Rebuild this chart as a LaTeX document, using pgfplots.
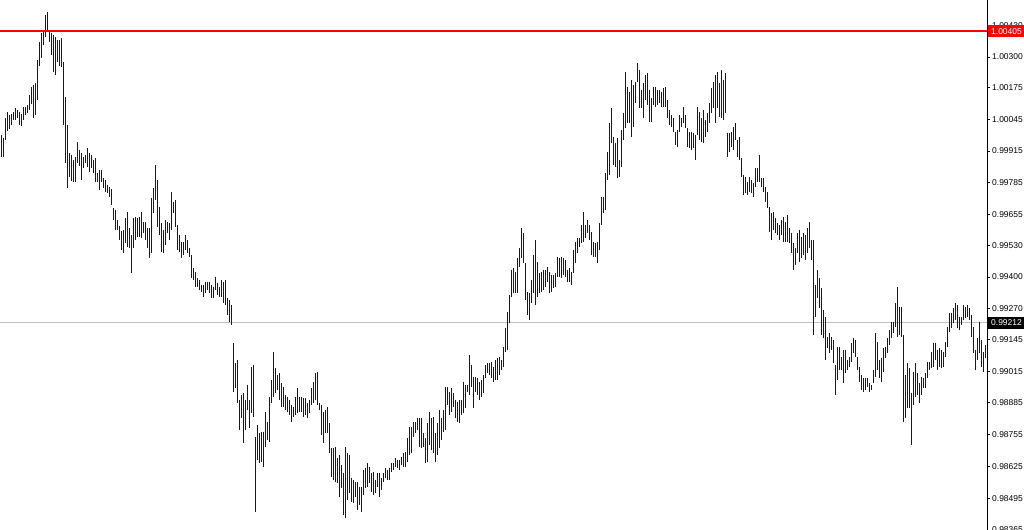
\documentclass[border=0pt]{standalone}
\usepackage{pgfplots}
\pgfplotsset{compat=1.18}
\usepackage{pgfplotstable}
\usepackage{fontspec}
\setmainfont{Liberation Sans}
\definecolor{mtred}{RGB}{255,0,0}
\definecolor{mtgray}{RGB}{192,192,192}
\definecolor{bar}{RGB}{25,25,25}
\pgfplotstableread{
x h l
1 0.99981 0.99891
3 0.99968 0.99891
5 1.00050 0.99960
7 1.00075 0.99997
9 1.00063 1.00005
11 1.00067 1.00022
13 1.00075 1.00042
15 1.00091 1.00042
17 1.00083 1.00050
19 1.00075 1.00022
21 1.00067 1.00018
23 1.00095 1.00042
25 1.00095 1.00063
27 1.00104 1.00071
29 1.00145 1.00083
31 1.00177 1.00108
33 1.00186 1.00050
35 1.00194 1.00063
37 1.00288 1.00124
39 1.00361 1.00263
41 1.00398 1.00296
43 1.00410 1.00349
45 1.00472 1.00381
47 1.00484 1.00402
49 1.00402 1.00361
51 1.00398 1.00308
53 1.00390 1.00239
55 1.00381 1.00226
57 1.00369 1.00280
59 1.00369 1.00263
61 1.00377 1.00259
63 1.00280 1.00022
65 1.00136 0.99867
67 1.00022 0.99764
69 0.99908 0.99809
71 0.99900 0.99793
73 0.99879 0.99789
75 0.99891 0.99789
77 0.99952 0.99867
79 0.99920 0.99854
81 0.99908 0.99797
83 0.99891 0.99846
85 0.99900 0.99867
87 0.99927 0.99850
89 0.99908 0.99830
91 0.99900 0.99846
93 0.99879 0.99826
95 0.99887 0.99789
97 0.99826 0.99789
99 0.99838 0.99756
101 0.99838 0.99789
103 0.99805 0.99764
105 0.99797 0.99748
107 0.99777 0.99744
109 0.99768 0.99727
111 0.99760 0.99695
113 0.99682 0.99633
115 0.99674 0.99592
117 0.99633 0.99592
119 0.99608 0.99551
121 0.99588 0.99511
123 0.99592 0.99499
125 0.99641 0.99539
127 0.99666 0.99522
129 0.99600 0.99518
131 0.99572 0.99417
133 0.99641 0.99518
135 0.99645 0.99551
137 0.99641 0.99563
139 0.99645 0.99563
141 0.99666 0.99559
143 0.99625 0.99580
145 0.99625 0.99551
147 0.99600 0.99518
149 0.99600 0.99478
151 0.99723 0.99499
153 0.99764 0.99662
155 0.99858 0.99715
157 0.99797 0.99604
159 0.99686 0.99572
161 0.99621 0.99503
163 0.99592 0.99499
165 0.99633 0.99531
167 0.99625 0.99580
169 0.99621 0.99551
171 0.99748 0.99592
173 0.99707 0.99662
175 0.99715 0.99604
177 0.99613 0.99511
179 0.99572 0.99503
181 0.99543 0.99478
183 0.99543 0.99491
185 0.99572 0.99511
187 0.99551 0.99499
189 0.99518 0.99482
191 0.99491 0.99396
193 0.99437 0.99388
195 0.99421 0.99359
197 0.99396 0.99359
199 0.99388 0.99347
201 0.99368 0.99339
203 0.99368 0.99318
205 0.99380 0.99335
207 0.99380 0.99347
209 0.99380 0.99335
211 0.99368 0.99314
213 0.99359 0.99314
215 0.99400 0.99347
217 0.99376 0.99327
219 0.99359 0.99318
221 0.99388 0.99318
223 0.99380 0.99294
225 0.99388 0.99286
227 0.99314 0.99245
229 0.99306 0.99216
231 0.99286 0.99204
233 0.99130 0.98930
235 0.99049 0.98946
237 0.99061 0.98885
239 0.98897 0.98774
241 0.98918 0.98823
243 0.98926 0.98721
245 0.98897 0.98774
247 0.98959 0.98856
249 0.98897 0.98782
251 0.99032 0.98844
253 0.99040 0.98827
255 0.98745 0.98439
257 0.98794 0.98652
259 0.98762 0.98640
261 0.98766 0.98644
263 0.98766 0.98623
265 0.98848 0.98705
267 0.98807 0.98733
269 0.98909 0.98725
271 0.98979 0.98885
273 0.99094 0.98909
275 0.99028 0.98926
277 0.98999 0.98938
279 0.99008 0.98897
281 0.98967 0.98868
283 0.98950 0.98868
285 0.98918 0.98856
287 0.98909 0.98848
289 0.98897 0.98835
291 0.98876 0.98807
293 0.98868 0.98827
295 0.98909 0.98835
297 0.98946 0.98844
299 0.98909 0.98848
301 0.98909 0.98848
303 0.98905 0.98827
305 0.98905 0.98835
307 0.98885 0.98823
309 0.98897 0.98844
311 0.98946 0.98876
313 0.98971 0.98885
315 0.99008 0.98897
317 0.99012 0.98876
319 0.98885 0.98856
321 0.98876 0.98753
323 0.98848 0.98721
325 0.98856 0.98762
327 0.98868 0.98762
329 0.98803 0.98680
331 0.98700 0.98582
333 0.98700 0.98570
335 0.98704 0.98562
337 0.98660 0.98558
339 0.98672 0.98500
341 0.98631 0.98537
343 0.98599 0.98427
345 0.98704 0.98414
347 0.98680 0.98488
349 0.98672 0.98516
351 0.98578 0.98480
353 0.98570 0.98476
355 0.98562 0.98500
357 0.98562 0.98447
359 0.98541 0.98468
361 0.98541 0.98439
363 0.98611 0.98508
365 0.98619 0.98537
367 0.98640 0.98541
369 0.98623 0.98558
371 0.98599 0.98521
373 0.98603 0.98508
375 0.98570 0.98516
377 0.98599 0.98541
379 0.98599 0.98500
381 0.98578 0.98529
383 0.98599 0.98562
385 0.98619 0.98578
387 0.98611 0.98570
389 0.98619 0.98570
391 0.98640 0.98603
393 0.98640 0.98611
395 0.98660 0.98623
397 0.98652 0.98619
399 0.98652 0.98611
401 0.98664 0.98631
403 0.98680 0.98623
405 0.98684 0.98623
407 0.98741 0.98644
409 0.98786 0.98672
411 0.98786 0.98680
413 0.98807 0.98745
415 0.98807 0.98762
417 0.98823 0.98774
419 0.98823 0.98705
421 0.98823 0.98700
423 0.98762 0.98705
425 0.98741 0.98640
427 0.98803 0.98644
429 0.98848 0.98713
431 0.98823 0.98692
433 0.98827 0.98680
435 0.98762 0.98644
437 0.98803 0.98672
439 0.98856 0.98700
441 0.98823 0.98733
443 0.98856 0.98766
445 0.98950 0.98774
447 0.98950 0.98876
449 0.98930 0.98835
451 0.98946 0.98848
453 0.98926 0.98868
455 0.98897 0.98823
457 0.98889 0.98807
459 0.98897 0.98803
461 0.98897 0.98835
463 0.98971 0.98844
465 0.98959 0.98864
467 0.98959 0.98930
469 0.99081 0.98918
471 0.99040 0.98950
473 0.98991 0.98864
475 0.98991 0.98930
477 0.98987 0.98918
479 0.98971 0.98897
481 0.98979 0.98909
483 0.98999 0.98926
485 0.99040 0.98987
487 0.99049 0.99008
489 0.99049 0.98999
491 0.99053 0.98987
493 0.99032 0.98971
495 0.99061 0.98979
497 0.99069 0.98979
499 0.99073 0.98999
501 0.99061 0.99020
503 0.99114 0.99032
505 0.99192 0.99094
507 0.99257 0.99102
509 0.99327 0.99212
511 0.99429 0.99318
513 0.99437 0.99335
515 0.99421 0.99335
517 0.99478 0.99335
519 0.99518 0.99441
521 0.99600 0.99478
523 0.99580 0.99457
525 0.99457 0.99306
527 0.99339 0.99245
529 0.99335 0.99224
531 0.99388 0.99294
533 0.99491 0.99335
535 0.99551 0.99286
537 0.99461 0.99318
539 0.99417 0.99335
541 0.99421 0.99339
543 0.99429 0.99347
545 0.99429 0.99359
547 0.99441 0.99380
549 0.99421 0.99335
551 0.99409 0.99339
553 0.99409 0.99355
555 0.99417 0.99359
557 0.99482 0.99400
559 0.99478 0.99400
561 0.99482 0.99396
563 0.99478 0.99409
565 0.99470 0.99400
567 0.99429 0.99380
569 0.99437 0.99380
571 0.99421 0.99368
573 0.99511 0.99417
575 0.99543 0.99457
577 0.99559 0.99499
579 0.99559 0.99522
581 0.99613 0.99539
583 0.99666 0.99543
585 0.99613 0.99559
587 0.99633 0.99580
589 0.99613 0.99551
591 0.99584 0.99491
593 0.99543 0.99482
595 0.99539 0.99482
597 0.99543 0.99457
599 0.99621 0.99511
601 0.99727 0.99613
603 0.99727 0.99662
605 0.99826 0.99674
607 0.99912 0.99797
609 1.00030 0.99817
611 1.00091 0.99948
613 0.99972 0.99858
615 0.99948 0.99850
617 0.99968 0.99805
619 0.99879 0.99809
621 1.00001 0.99850
623 1.00071 0.99960
625 1.00239 1.00009
627 1.00177 1.00030
629 1.00157 1.00030
631 1.00206 0.99972
633 1.00186 1.00013
635 1.00198 1.00112
637 1.00275 1.00198
639 1.00247 1.00091
641 1.00165 1.00091
643 1.00194 1.00050
645 1.00226 1.00124
647 1.00235 1.00104
649 1.00165 1.00034
651 1.00132 1.00034
653 1.00177 1.00104
655 1.00177 1.00095
657 1.00165 1.00104
659 1.00165 1.00112
661 1.00157 1.00095
663 1.00173 1.00095
665 1.00177 1.00095
667 1.00124 1.00050
669 1.00083 1.00022
671 1.00063 1.00013
673 1.00050 0.99993
675 0.99993 0.99940
677 1.00001 0.99931
679 1.00063 0.99993
681 1.00050 1.00013
683 1.00095 1.00030
685 1.00063 1.00009
687 1.00009 0.99931
689 0.99993 0.99927
691 0.99993 0.99920
693 0.99989 0.99927
695 0.99981 0.99879
697 1.00095 0.99981
699 1.00075 0.99960
701 1.00050 0.99952
703 1.00083 0.99948
705 1.00042 0.99972
707 1.00071 0.99993
709 1.00112 1.00030
711 1.00173 1.00071
713 1.00198 1.00091
715 1.00226 1.00030
717 1.00239 1.00091
719 1.00194 1.00054
721 1.00247 1.00050
723 1.00206 1.00042
725 1.00235 1.00071
727 0.99989 0.99891
729 0.99989 0.99912
731 0.99993 0.99931
733 1.00013 0.99920
735 1.00030 0.99960
737 0.99960 0.99891
739 0.99972 0.99879
741 0.99887 0.99809
743 0.99817 0.99736
745 0.99809 0.99744
747 0.99789 0.99736
749 0.99809 0.99748
751 0.99797 0.99744
753 0.99785 0.99727
755 0.99846 0.99768
757 0.99846 0.99789
759 0.99900 0.99789
761 0.99805 0.99768
763 0.99805 0.99748
765 0.99768 0.99707
767 0.99748 0.99682
769 0.99686 0.99584
771 0.99662 0.99551
773 0.99666 0.99592
775 0.99641 0.99580
777 0.99621 0.99572
779 0.99613 0.99551
781 0.99633 0.99572
783 0.99645 0.99543
785 0.99625 0.99543
787 0.99654 0.99543
789 0.99600 0.99539
791 0.99580 0.99499
793 0.99539 0.99429
795 0.99518 0.99449
797 0.99580 0.99499
799 0.99592 0.99461
801 0.99563 0.99478
803 0.99580 0.99491
805 0.99572 0.99470
807 0.99600 0.99499
809 0.99625 0.99518
811 0.99551 0.99470
813 0.99551 0.99163
815 0.99368 0.99237
817 0.99429 0.99314
819 0.99396 0.99273
821 0.99355 0.99163
823 0.99265 0.99151
825 0.99237 0.99061
827 0.99155 0.99110
829 0.99171 0.99089
831 0.99155 0.99102
833 0.99142 0.99049
835 0.99040 0.98918
837 0.99114 0.98979
839 0.99114 0.99020
841 0.99073 0.99020
843 0.99102 0.98967
845 0.99102 0.99008
847 0.99061 0.99020
849 0.99073 0.99032
851 0.99130 0.99053
853 0.99151 0.99089
855 0.99142 0.99073
857 0.99073 0.99020
859 0.99032 0.98971
861 0.98999 0.98938
863 0.98987 0.98930
865 0.98987 0.98938
867 0.98987 0.98950
869 0.98967 0.98930
871 0.98959 0.98938
873 0.99020 0.98967
875 0.99171 0.98991
877 0.99134 0.99020
879 0.99061 0.98987
881 0.99069 0.98971
883 0.99110 0.99012
885 0.99114 0.99069
887 0.99151 0.99089
889 0.99183 0.99122
891 0.99216 0.99151
893 0.99216 0.99171
895 0.99294 0.99196
897 0.99359 0.99155
899 0.99278 0.99163
901 0.99278 0.99155
903 0.99163 0.98807
905 0.98999 0.98823
907 0.99049 0.98864
909 0.99028 0.98864
911 0.98926 0.98713
913 0.99012 0.98876
915 0.99049 0.98909
917 0.99008 0.98918
919 0.98967 0.98885
921 0.98991 0.98918
923 0.98987 0.98946
925 0.99008 0.98946
927 0.99053 0.98987
929 0.99053 0.99020
931 0.99094 0.99028
933 0.99130 0.99032
935 0.99130 0.99061
937 0.99102 0.99020
939 0.99110 0.99032
941 0.99102 0.99028
943 0.99094 0.99032
945 0.99134 0.99073
947 0.99196 0.99114
949 0.99253 0.99175
951 0.99253 0.99192
953 0.99273 0.99212
955 0.99294 0.99224
957 0.99286 0.99192
959 0.99237 0.99183
961 0.99237 0.99204
963 0.99286 0.99224
965 0.99278 0.99232
967 0.99286 0.99237
969 0.99273 0.99224
971 0.99245 0.99155
973 0.99196 0.99089
975 0.99102 0.99020
977 0.99151 0.99061
979 0.99216 0.99089
981 0.99142 0.99032
983 0.99094 0.99012
985 0.99122 0.99069
}\bars
\begin{document}
\begin{tikzpicture}
\path[use as bounding box] (0bp,0bp) rectangle (1024bp,530bp);
\begin{axis}[
  at={(0bp,0bp)}, anchor=south west,
  scale only axis, width=987bp, height=530bp,
  xmin=-0.5, xmax=986.5, ymin=0.98365, ymax=1.00533,
  axis x line=none,
  axis y line=right,
  axis line style={-, black, line width=1bp},
  xtick=\empty,
  ytick={0.98365,0.98495,0.98625,0.98755,0.98885,0.99015,0.99145,0.99270,0.99400,0.99530,0.99655,0.99785,0.99915,1.00045,1.00175,1.00300,1.00430},
  yticklabels={0.98365,0.98495,0.98625,0.98755,0.98885,0.99015,0.99145,0.99270,0.99400,0.99530,0.99655,0.99785,0.99915,1.00045,1.00175,1.00300,1.00430},
  tick align=outside,
  major tick length=3bp,
  ytick style={black, line width=0.8bp},
  yticklabel style={font=\fontsize{8.5}{10}\selectfont, anchor=west, inner sep=0pt, xshift=2bp},
  clip=true,
]
\draw[color=mtgray, line width=1bp] (axis cs:-0.5,0.99212) -- (axis cs:986.5,0.99212);
\addplot[draw=none, mark=none, forget plot,
  error bars/.cd, y dir=minus, y explicit, error mark=none,
  error bar style={draw=bar, line width=1.2bp}]
  table[x=x, y=h, y error minus expr={\thisrow{h}-\thisrow{l}}] {\bars};
\draw[color=mtred, line width=1.8bp] (axis cs:-0.5,1.00405) -- (axis cs:986.5,1.00405);
\coordinate (redlab) at (axis cs:986.5,1.00405);
\coordinate (graylab) at (axis cs:986.5,0.99212);
\end{axis}
\node[anchor=west, fill=mtred, text=white, inner xsep=3bp, inner ysep=1.5bp, minimum height=12bp, font=\fontsize{8.5}{10}\selectfont, xshift=1bp] at (redlab) {1.00405};
\node[anchor=west, fill=black, text=white, inner xsep=3bp, inner ysep=1.5bp, minimum height=12bp, font=\fontsize{8.5}{10}\selectfont, xshift=1bp] at (graylab) {0.99212};
\end{tikzpicture}
\end{document}
